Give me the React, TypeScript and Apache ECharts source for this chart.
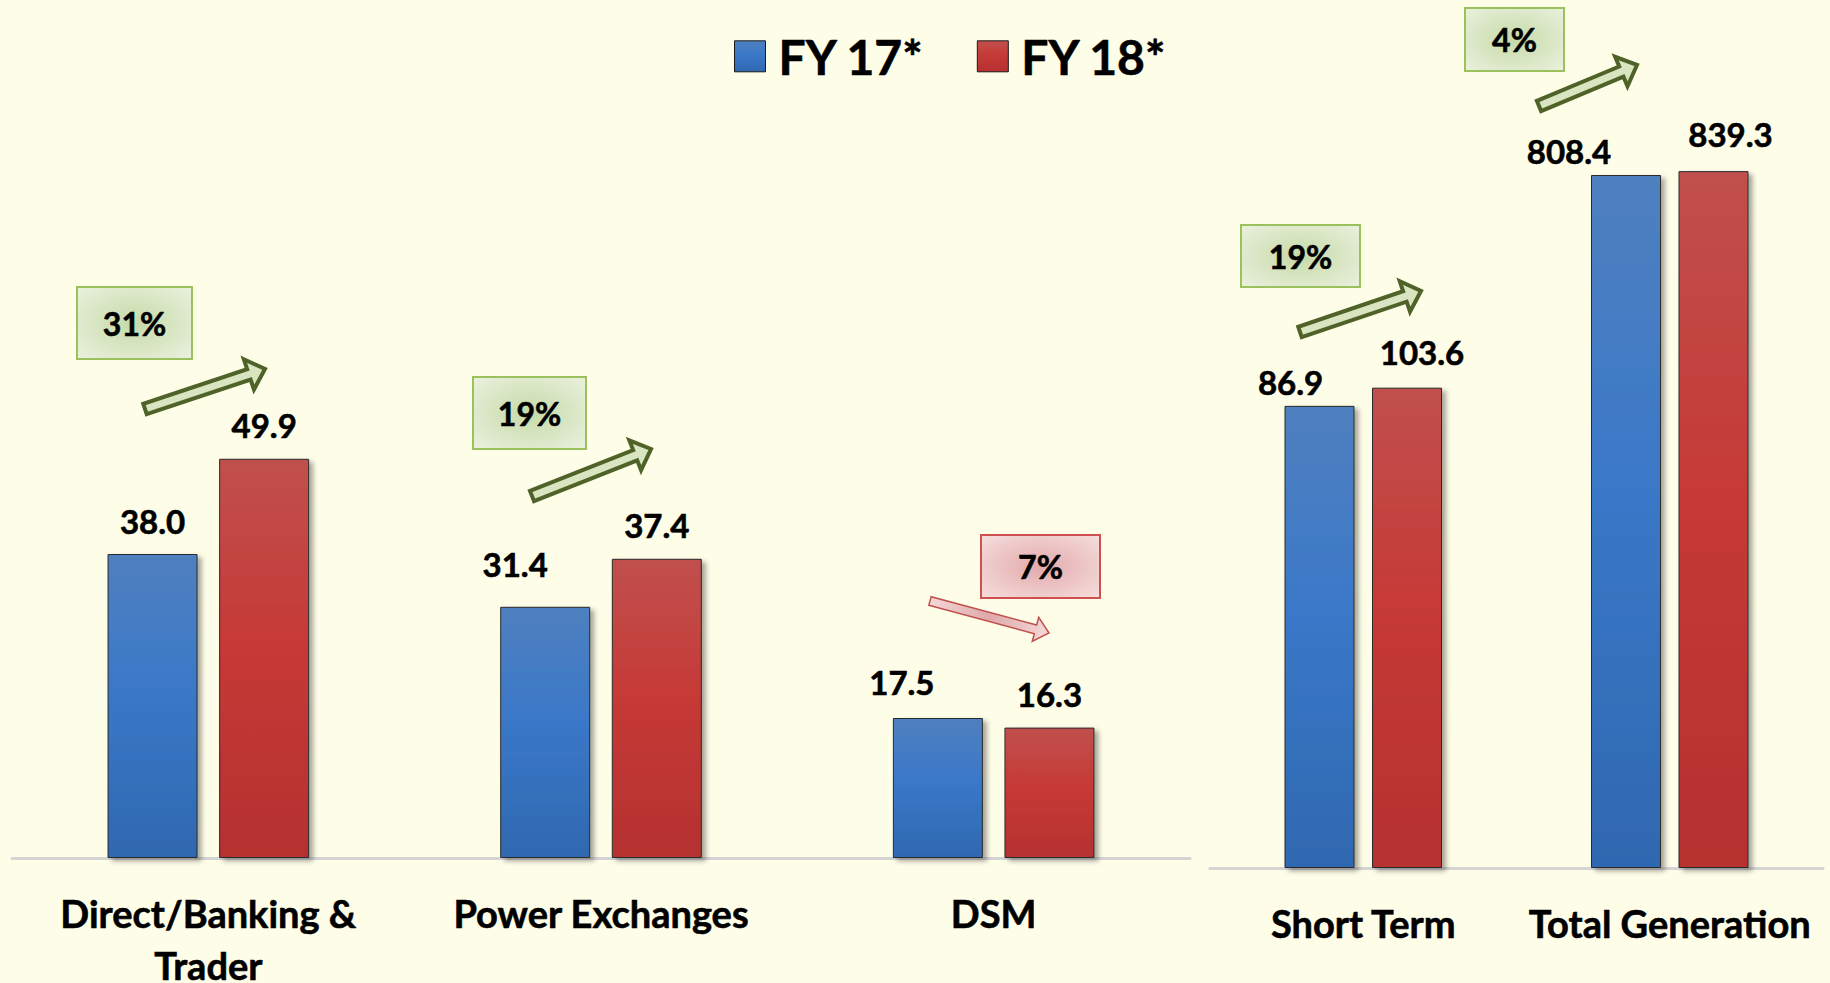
import React, { useEffect, useRef } from "react";
import * as echarts from "echarts";

const leftCategories = ["Direct/Banking &\nTrader", "Power Exchanges", "DSM"];
const leftFY17 = [38.0, 31.4, 17.5];
const leftFY18 = [49.9, 37.4, 16.3];

const rightCategories = ["Short Term", "Total Generation"];
const rightFY17 = [86.9, 808.4];
const rightFY18 = [103.6, 839.3];

const seriesNames = ["FY 17*", "FY 18*"];
const changeLabels = ["31%", "19%", "7%", "19%", "4%"];
const changeUp = [true, true, false, true, true];

const FONT = "Lato, 'Open Sans', sans-serif";

// label nudges (px) to match the reference placement
const leftFY17Offsets = [[0, -12], [-30, -21], [-36, -15]];
const leftFY18Offsets = [[0, -12], [0, -12], [0, -12]];
const rightFY17Offsets = [[-29, -2], [-57, -3]];
const rightFY18Offsets = [[15, -14], [17, -16]];

// annotation geometry (boxes and arrows)
const boxes = [
  { x: 77, y: 287, w: 115, h: 72 },
  { x: 473, y: 377, w: 113, h: 72 },
  { x: 981, y: 535, w: 119, h: 63 },
  { x: 1241, y: 225, w: 119, h: 62 },
  { x: 1465, y: 8, w: 99, h: 63 },
];
const arrows = [
  { t: [145, 409], h: [265, 369] },
  { t: [532, 496], h: [651, 449] },
  { t: [930, 601], h: [1049, 633] },
  { t: [1300, 332], h: [1421, 291] },
  { t: [1539, 106], h: [1637, 65] },
];

const blueGrad = () =>
  new echarts.graphic.LinearGradient(0, 0, 0, 1, [
    { offset: 0, color: "#4f80bf" },
    { offset: 0.45, color: "#3a78c8" },
    { offset: 1, color: "#2f68b0" },
  ]);
const redGrad = () =>
  new echarts.graphic.LinearGradient(0, 0, 0, 1, [
    { offset: 0, color: "#c0504d" },
    { offset: 0.45, color: "#c63a37" },
    { offset: 1, color: "#b5312f" },
  ]);

function arrowPoints(t: number[], h: number[], shaft: number, head: number, headLen: number) {
  const dx = h[0] - t[0];
  const dy = h[1] - t[1];
  const L = Math.sqrt(dx * dx + dy * dy);
  const ux = dx / L, uy = dy / L;
  const nx = -uy, ny = ux;
  const bx = h[0] - ux * headLen, by = h[1] - uy * headLen;
  const s = shaft / 2, w = head / 2;
  return [
    [t[0] + nx * s, t[1] + ny * s],
    [bx + nx * s, by + ny * s],
    [bx + nx * w, by + ny * w],
    [h[0], h[1]],
    [bx - nx * w, by - ny * w],
    [bx - nx * s, by - ny * s],
    [t[0] - nx * s, t[1] - ny * s],
  ];
}

function labelData(vals: number[], offs: number[][]) {
  return vals.map((v, i) => ({ value: v, label: { offset: offs[i] } }));
}

export default function App() {
  const ref = useRef<HTMLDivElement>(null);
  useEffect(() => {
    if (!ref.current) return;
    const chart = echarts.init(ref.current, undefined, { renderer: "svg" });

    const heavy = { textBorderColor: "#000", textBorderWidth: 0.6 };

    const barLabel = {
      show: true,
      position: "top",
      distance: 5,
      fontFamily: FONT,
      fontWeight: "bold",
      fontSize: 33,
      color: "#000",
      ...heavy,
      formatter: (p: any) => Number(p.value).toFixed(1),
    };
    const barItem = (grad: any) => ({
      color: grad,
      borderColor: "#2a2a2a",
      borderWidth: 1,
      shadowColor: "rgba(0,0,0,0.35)",
      shadowBlur: 5,
      shadowOffsetX: 4,
      shadowOffsetY: 3,
    });
    const catLabel = {
      fontFamily: FONT,
      fontWeight: "bold",
      fontSize: 38,
      color: "#000",
      ...heavy,
      lineHeight: 52,
      margin: 29,
      interval: 0,
      hideOverlap: false,
    };

    const graphics: any[] = [];
    boxes.forEach((b, i) => {
      const up = changeUp[i];
      graphics.push({
        type: "rect",
        shape: { x: b.x, y: b.y, width: b.w, height: b.h },
        style: {
          fill: new echarts.graphic.RadialGradient(0.5, 0.5, 0.7, up
            ? [{ offset: 0, color: "#c6daa8" }, { offset: 1, color: "#eaf1de" }]
            : [{ offset: 0, color: "#e3aaab" }, { offset: 1, color: "#f6dede" }]),
          stroke: up ? "#9bc15e" : "#d0504f",
          lineWidth: 2,
        },
        z: 10,
      });
      graphics.push({
        type: "text",
        x: b.x + b.w / 2,
        y: b.y + b.h / 2,
        style: {
          text: changeLabels[i],
          fontFamily: FONT,
          fontWeight: "bold",
          fontSize: 32,
          fill: "#000",
          stroke: "#000",
          lineWidth: 0.6,
          align: "center",
          verticalAlign: "middle",
        },
        z: 11,
      });
    });
    arrows.forEach((a, i) => {
      const up = changeUp[i];
      graphics.push({
        type: "polygon",
        shape: {
          points: up
            ? arrowPoints(a.t, a.h, 11, 32, 17)
            : arrowPoints(a.t, a.h, 9, 25, 14),
        },
        style: {
          fill: up
            ? "#d8e5c0"
            : new echarts.graphic.LinearGradient(0, 0, 1, 0, [
                { offset: 0, color: "#f4d8d8" },
                { offset: 0.5, color: "#dfa9aa" },
                { offset: 1, color: "#f4d8d8" },
              ]),
          stroke: up ? "#4f6228" : "#c0504d",
          lineWidth: up ? 4 : 1.5,
          lineJoin: "miter",
        },
        z: 10,
      });
    });

    const option: any = {
      animation: false,
      backgroundColor: "#fefde8",
      legend: {
        data: seriesNames,
        left: 729,
        top: 27,
        icon: "rect",
        itemWidth: 31,
        itemHeight: 31,
        itemGap: 52,
        itemStyle: { borderColor: "#1a1a1a", borderWidth: 1 },
        textStyle: {
          fontFamily: FONT,
          fontWeight: "bold",
          fontSize: 48,
          color: "#000",
          ...heavy,
          padding: [0, 0, 0, 8],
        },
      },
      grid: [
        { left: 12, top: 218, width: 1178, height: 640, outerBoundsMode: "none", containLabel: false },
        { left: 1210, top: 153, width: 613, height: 715, outerBoundsMode: "none", containLabel: false },
      ],
      xAxis: [
        {
          type: "category",
          gridIndex: 0,
          data: leftCategories,
          axisLine: { lineStyle: { color: "#d4d4d4", width: 3 } },
          axisTick: { show: false },
          axisLabel: catLabel,
        },
        {
          type: "category",
          gridIndex: 1,
          data: rightCategories,
          axisLine: { lineStyle: { color: "#d4d4d4", width: 3 } },
          axisTick: { show: false },
          axisLabel: catLabel,
        },
      ],
      yAxis: [
        { type: "value", gridIndex: 0, min: 0, max: 80, show: false, splitLine: { show: false } },
        { type: "log", logBase: 10, gridIndex: 1, min: 1, max: 1000, show: false, splitLine: { show: false } },
      ],
      series: [
        {
          name: seriesNames[0],
          type: "bar",
          xAxisIndex: 0,
          yAxisIndex: 0,
          barWidth: 90,
          barGap: "24%",
          data: labelData(leftFY17, leftFY17Offsets),
          itemStyle: barItem(blueGrad()),
          label: barLabel,
        },
        {
          name: seriesNames[1],
          type: "bar",
          xAxisIndex: 0,
          yAxisIndex: 0,
          barWidth: 90,
          barGap: "24%",
          data: labelData(leftFY18, leftFY18Offsets),
          itemStyle: barItem(redGrad()),
          label: barLabel,
        },
        {
          name: seriesNames[0],
          type: "bar",
          xAxisIndex: 1,
          yAxisIndex: 1,
          barWidth: 70,
          barGap: "25%",
          data: labelData(rightFY17, rightFY17Offsets),
          itemStyle: barItem(blueGrad()),
          label: barLabel,
        },
        {
          name: seriesNames[1],
          type: "bar",
          xAxisIndex: 1,
          yAxisIndex: 1,
          barWidth: 70,
          barGap: "25%",
          data: labelData(rightFY18, rightFY18Offsets),
          itemStyle: barItem(redGrad()),
          label: barLabel,
        },
      ],
      graphic: graphics,
    };
    chart.setOption(option);
    return () => chart.dispose();
  }, []);
  return (
    <div
      ref={ref}
      style={{ position: "absolute", left: 0, top: 0, width: 1830, height: 983 }}
    />
  );
}
